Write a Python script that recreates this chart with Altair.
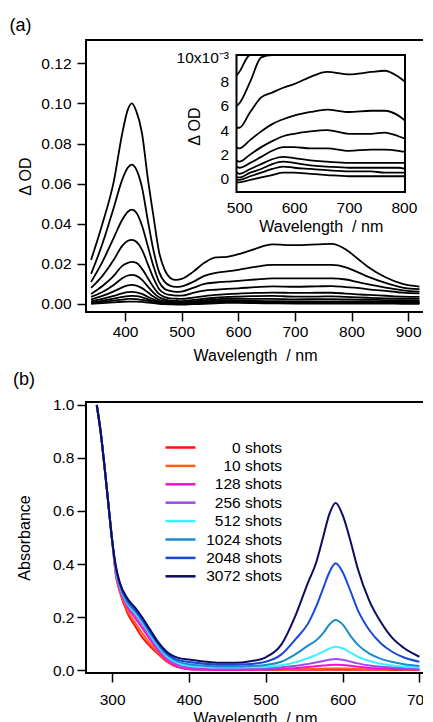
import altair as alt
import pandas as pd

FONT = "Liberation Sans"

# ---------------- Panel (a): transient absorption spectra ----------------
WL_A = [340, 360, 380, 395, 405, 412, 420, 430, 440, 450, 460, 470, 480, 490,
        500, 520, 540, 560, 580, 600, 630, 660, 700, 740, 765, 790, 810, 830, 860, 890, 920]

C1 = [0.022, 0.040, 0.061, 0.085, 0.097, 0.100, 0.096, 0.085, 0.063, 0.044, 0.026, 0.017, 0.013, 0.012,
      0.0125, 0.016, 0.0205, 0.0232, 0.0235, 0.0248, 0.0275, 0.0297, 0.0293, 0.0297, 0.0300, 0.0272, 0.0228, 0.0183, 0.0133, 0.0100, 0.0087]
C2 = [0.015, 0.030, 0.048, 0.062, 0.068, 0.0695, 0.067, 0.058, 0.042, 0.027, 0.016, 0.011, 0.009, 0.0085,
      0.0088, 0.011, 0.014, 0.0155, 0.0162, 0.017, 0.0185, 0.0195, 0.0195, 0.0195, 0.0195, 0.0183, 0.0160, 0.0135, 0.0105, 0.0082, 0.0074]
C3 = [0.011, 0.021, 0.033, 0.042, 0.046, 0.047, 0.0455, 0.039, 0.029, 0.019, 0.011, 0.0075, 0.0065, 0.006,
      0.0062, 0.0080, 0.0100, 0.0107, 0.0111, 0.0115, 0.0122, 0.0128, 0.0128, 0.0128, 0.0128, 0.0122, 0.0110, 0.0098, 0.0082, 0.0068, 0.0062]
C4 = [0.008, 0.014, 0.022, 0.029, 0.0315, 0.032, 0.031, 0.027, 0.020, 0.013, 0.0075, 0.0052, 0.0045, 0.0042,
      0.0042, 0.0055, 0.0067, 0.0071, 0.0075, 0.0078, 0.0084, 0.0088, 0.0086, 0.0088, 0.0089, 0.0084, 0.0080, 0.0073, 0.0065, 0.0057, 0.0053]
C5 = [0.005, 0.009, 0.014, 0.019, 0.0205, 0.021, 0.0205, 0.0175, 0.013, 0.0085, 0.005, 0.0034, 0.0028, 0.0026,
      0.0025, 0.0032, 0.0039, 0.0045, 0.0049, 0.0052, 0.0055, 0.0057, 0.0055, 0.0056, 0.0056, 0.0052, 0.0048, 0.0045, 0.0041, 0.0037, 0.0035]
C6 = [0.0035, 0.006, 0.0095, 0.0128, 0.0142, 0.0145, 0.014, 0.012, 0.0088, 0.0057, 0.0033, 0.0022, 0.0017, 0.0015,
      0.0014, 0.0020, 0.0026, 0.0031, 0.0035, 0.0037, 0.0039, 0.0040, 0.0037, 0.0037, 0.0038, 0.0035, 0.0033, 0.0031, 0.0028, 0.0026, 0.0025]
C7 = [0.0022, 0.004, 0.0063, 0.0083, 0.0093, 0.0095, 0.0092, 0.0079, 0.0058, 0.0037, 0.0021, 0.0014, 0.0011, 0.0010,
      0.0009, 0.0013, 0.0018, 0.0023, 0.0026, 0.0026, 0.0025, 0.0025, 0.0023, 0.0024, 0.0024, 0.0023, 0.0022, 0.0021, 0.0019, 0.0018, 0.0017]
C8 = [0.0013, 0.0025, 0.004, 0.0053, 0.0059, 0.006, 0.0058, 0.005, 0.0036, 0.0023, 0.0013, 0.0008, 0.0006, 0.0005,
      0.0004, 0.0008, 0.0012, 0.0016, 0.0018, 0.0017, 0.0015, 0.0014, 0.0013, 0.0013, 0.0013, 0.0013, 0.0013, 0.0012, 0.0011, 0.0011, 0.0010]
C9 = [0.0008, 0.0016, 0.0027, 0.0035, 0.0039, 0.004, 0.0039, 0.0033, 0.0024, 0.0015, 0.0008, 0.0004, 0.0002, 0.0001,
      0.0001, 0.0005, 0.0008, 0.0012, 0.0014, 0.0013, 0.0011, 0.0010, 0.0009, 0.0009, 0.0009, 0.0009, 0.0008, 0.0008, 0.0007, 0.0007, 0.0006]
C10 = [0.0004, 0.001, 0.0017, 0.0022, 0.0025, 0.0025, 0.0024, 0.002, 0.0015, 0.0009, 0.0004, 0.0001, 0.0, -0.0001,
       -0.0001, 0.0002, 0.0005, 0.0008, 0.0010, 0.0009, 0.0008, 0.0007, 0.0006, 0.0006, 0.0005, 0.0005, 0.0005, 0.0005, 0.0004, 0.0004, 0.0004]
C11 = [0.0001, 0.0004, 0.0008, 0.0011, 0.0012, 0.0012, 0.0012, 0.001, 0.0007, 0.0004, 0.0001, -0.0001, -0.0002, -0.0003,
       -0.0003, -0.0001, 0.0001, 0.0003, 0.0005, 0.0005, 0.0004, 0.0003, 0.0002, 0.0002, 0.0002, 0.0002, 0.0002, 0.0002, 0.0002, 0.0001, 0.0001]
CURVES_A = [C1, C2, C3, C4, C5, C6, C7, C8, C9, C10, C11]

X_TICKS_A = [400, 500, 600, 700, 800, 900]
Y_TICKS_A = [0.0, 0.02, 0.04, 0.06, 0.08, 0.10, 0.12]
X_TICKS_IN = [500, 600, 700, 800]
Y_TICKS_IN = [0, 2, 4, 6, 8, 10]
INSET_X = [495, 802]
INSET_Y = [-1.1, 10.2]

# ---------------- Panel (b): absorption spectra ----------------
WL_B = [280, 285, 290, 295, 300, 305, 310, 320, 330, 340, 350, 360, 370, 380, 390, 400, 420, 440,
        460, 480, 500, 520, 540, 555, 565, 575, 583, 591, 600, 610, 620, 635, 650, 665, 680, 700]
SERIES_B = ["0 shots", "10 shots", "128 shots", "256 shots", "512 shots",
            "1024 shots", "2048 shots", "3072 shots"]
COLORS_B = ["#ff1010", "#ff6018", "#ff10c8", "#9a4cf0", "#3cf0ff", "#1a8ccc", "#1a48d8", "#0c0c62"]
A0 = [1.00, 0.90, 0.77, 0.63, 0.49, 0.355, 0.295, 0.215, 0.165, 0.12, 0.088, 0.06, 0.034, 0.017, 0.008, 0.004, 0.002, 0.001,
      0.001, 0.001, 0.001, 0.001, 0.001, 0.001, 0.001, 0.001, 0.001, 0.001, 0.001, 0.001, 0.001, 0.001, 0.001, 0.0, 0.0, 0.0]
A10 = [1.00, 0.90, 0.77, 0.63, 0.49, 0.36, 0.30, 0.225, 0.178, 0.136, 0.097, 0.065, 0.037, 0.019, 0.009, 0.005, 0.003, 0.002,
       0.002, 0.002, 0.002, 0.002, 0.003, 0.004, 0.005, 0.005, 0.006, 0.006, 0.006, 0.005, 0.004, 0.003, 0.002, 0.002, 0.001, 0.001]
A128 = [1.00, 0.90, 0.77, 0.63, 0.49, 0.365, 0.305, 0.237, 0.196, 0.155, 0.112, 0.073, 0.041, 0.020, 0.008, 0.003, 0.001, 0.0,
        0.0, 0.001, 0.002, 0.004, 0.008, 0.011, 0.014, 0.017, 0.019, 0.020, 0.019, 0.016, 0.012, 0.008, 0.006, 0.004, 0.003, 0.002]
A256 = [1.00, 0.90, 0.77, 0.63, 0.49, 0.37, 0.31, 0.245, 0.208, 0.168, 0.123, 0.082, 0.049, 0.028, 0.016, 0.010, 0.006, 0.005,
        0.005, 0.006, 0.007, 0.010, 0.016, 0.023, 0.028, 0.034, 0.039, 0.042, 0.039, 0.032, 0.025, 0.017, 0.012, 0.009, 0.007, 0.005]
A512 = [1.00, 0.90, 0.77, 0.63, 0.49, 0.375, 0.315, 0.25, 0.215, 0.175, 0.13, 0.088, 0.055, 0.034, 0.022, 0.016, 0.011, 0.009,
        0.009, 0.010, 0.012, 0.018, 0.030, 0.045, 0.056, 0.069, 0.081, 0.088, 0.082, 0.066, 0.050, 0.034, 0.024, 0.017, 0.013, 0.009]
A1024 = [1.00, 0.90, 0.77, 0.63, 0.49, 0.38, 0.32, 0.255, 0.222, 0.182, 0.137, 0.095, 0.061, 0.040, 0.028, 0.022, 0.016, 0.013,
         0.013, 0.015, 0.019, 0.031, 0.062, 0.092, 0.110, 0.140, 0.172, 0.189, 0.172, 0.130, 0.095, 0.062, 0.042, 0.030, 0.022, 0.015]
A2048 = [1.00, 0.90, 0.77, 0.63, 0.49, 0.385, 0.325, 0.262, 0.228, 0.188, 0.143, 0.100, 0.066, 0.045, 0.035, 0.030, 0.024, 0.020,
         0.020, 0.023, 0.031, 0.058, 0.120, 0.175, 0.235, 0.310, 0.370, 0.403, 0.370, 0.300, 0.225, 0.150, 0.100, 0.068, 0.047, 0.031]
A3072 = [1.00, 0.90, 0.77, 0.63, 0.49, 0.39, 0.33, 0.27, 0.235, 0.195, 0.150, 0.105, 0.072, 0.052, 0.043, 0.040, 0.032, 0.027,
         0.027, 0.033, 0.048, 0.095, 0.215, 0.330, 0.400, 0.505, 0.590, 0.630, 0.585, 0.490, 0.380, 0.260, 0.180, 0.120, 0.083, 0.050]
CURVES_B = [A0, A10, A128, A256, A512, A1024, A2048, A3072]
X_TICKS_B = [300, 400, 500, 600, 700]
Y_TICKS_B = [0.0, 0.2, 0.4, 0.6, 0.8, 1.0]

# ---------------- tables ----------------
rows_a = []
for i, vals in enumerate(CURVES_A):
    for w, v in zip(WL_A, vals):
        rows_a.append({"wl": w, "od": v, "curve": i})
df_a = pd.DataFrame(rows_a)

rows_b = []
for k, (name, vals) in enumerate(zip(SERIES_B, CURVES_B)):
    for w, v in zip(WL_B, vals):
        rows_b.append({"wl": w, "absorb": v, "series": name, "k": k})
df_b = pd.DataFrame(rows_b)

df_box = pd.DataFrame({"x": [INSET_X[0]], "x2": [INSET_X[1]],
                       "y": [INSET_Y[0]], "y2": [INSET_Y[1]]})

# ---------------- layout constants ----------------
W = 338
H_A = 272
H_B = 271
IN_X_RANGE = [150.5, 319]
IN_Y_RANGE = [152, 15]
IN_TICK = 7
XTITLE = "Wavelength\u00a0 / nm"

# ---------------- panel (a) ----------------
main = alt.Chart(df_a).mark_line(color="black", strokeWidth=1.8, interpolate="monotone").encode(
    x=alt.X("wl:Q", scale=alt.Scale(domain=[331, 928], nice=False, zero=False),
            axis=alt.Axis(values=X_TICKS_A, format="d", title=XTITLE,
                          tickSize=9, labelPadding=3, titlePadding=8)),
    y=alt.Y("od:Q", scale=alt.Scale(domain=[-0.004, 0.1316], nice=False, zero=False),
            axis=alt.Axis(values=Y_TICKS_A, format=".2f", title="Δ OD",
                          tickSize=9, labelPadding=6, titlePadding=7)),
    detail="curve:N",
)

sx_in = alt.Scale(domain=INSET_X, range=IN_X_RANGE, nice=False, zero=False, clamp=True)
sy_in = alt.Scale(domain=INSET_Y, range=IN_Y_RANGE, nice=False, zero=False, clamp=True)
ax_ix = alt.Axis(orient="bottom", values=X_TICKS_IN, format="d", title=XTITLE,
                 tickSize=IN_TICK, labelPadding=8, titlePadding=3,
                 offset=-(H_A - IN_Y_RANGE[0] + IN_TICK))
ax_iy = alt.Axis(orient="left", values=Y_TICKS_IN,
                 labelExpr="datum.value == 10 ? '10x10⁻³' : datum.label",
                 title="Δ OD", tickSize=IN_TICK, labelPadding=8,
                 offset=-(IN_X_RANGE[0] + IN_TICK), titleX=-41, titleY=86)

box = alt.Chart(df_box).mark_rect(fill="white", stroke="black", strokeWidth=2).encode(
    x=alt.X("x:Q", scale=sx_in, axis=ax_ix), x2="x2:Q",
    y=alt.Y("y:Q", scale=sy_in, axis=ax_iy), y2="y2:Q",
)
ins_lines = alt.Chart(df_a).transform_filter(
    "datum.wl >= 490 && datum.wl <= 810"
).transform_calculate(odm="datum.od * 1000").mark_line(
    color="black", strokeWidth=1.8, interpolate="monotone"
).encode(
    x=alt.X("wl:Q", scale=sx_in, axis=ax_ix),
    y=alt.Y("odm:Q", scale=sy_in, axis=ax_iy),
    detail="curve:N",
)
inset = alt.layer(box, ins_lines)

panel_a = alt.layer(main, inset).resolve_scale(x="independent", y="independent").properties(
    width=W, height=H_A,
    title=alt.TitleParams("(a)", anchor="start", frame="group", dx=-76.5, offset=5,
                          fontSize=18, font=FONT, fontWeight="normal"),
)

# ---------------- panel (b) ----------------
panel_b = alt.Chart(df_b).mark_line(strokeWidth=2, interpolate="monotone").encode(
    x=alt.X("wl:Q", scale=alt.Scale(domain=[266, 706], nice=False, zero=False),
            axis=alt.Axis(values=X_TICKS_B, format="d", title=XTITLE,
                          tickSize=9, labelPadding=10, titlePadding=3)),
    y=alt.Y("absorb:Q", scale=alt.Scale(domain=[-0.0113, 1.0113], nice=False, zero=False),
            axis=alt.Axis(values=Y_TICKS_B, format=".1f", title="Absorbance",
                          tickSize=9, labelPadding=3, titlePadding=20)),
    color=alt.Color("series:N", scale=alt.Scale(domain=SERIES_B, range=COLORS_B),
                    legend=alt.Legend(orient="none", legendX=85.5, legendY=398.5, title=None,
                                      symbolType="M-2,0H2", symbolSize=225, symbolStrokeWidth=2.5,
                                      labelFontSize=15.5, labelFont=FONT, labelAlign="right",
                                      labelOffset=92.5, rowPadding=0.4, padding=0)),
    order=alt.Order("k:Q"),
).properties(
    width=W, height=H_B,
    title=alt.TitleParams("(b)", anchor="start", frame="group", dx=-73, offset=9,
                          fontSize=18, font=FONT, fontWeight="normal"),
)

chart = alt.vconcat(panel_a, panel_b, spacing=4).properties(
    padding={"left": 0, "top": 8, "right": -11, "bottom": 0}
).configure_view(stroke="black", strokeWidth=2).configure_axis(
    grid=False, domain=False, tickColor="black", tickWidth=1.5,
    labelFont=FONT, labelFontSize=15.5, labelColor="black",
    titleFont=FONT, titleFontSize=16, titleFontWeight="normal", titleColor="black",
).configure_legend(labelColor="black")

chart.save("out.html", embed_options={"renderer": "svg", "actions": False})
